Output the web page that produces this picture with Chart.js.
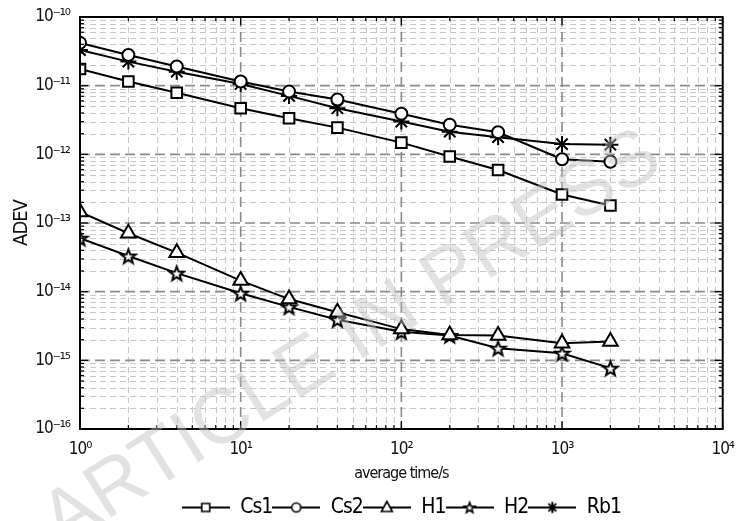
<!DOCTYPE html>
<html>
<head>
<meta charset="utf-8">
<script src="https://cdn.jsdelivr.net/npm/chart.js@4.4.0/dist/chart.umd.min.js"></script>
<style>
  html, body { margin: 0; padding: 0; background: #fff; }
  #wrap { width: 736px; height: 521px; }
</style>
</head>
<body>
<div id="wrap"><canvas id="adev"></canvas></div>
<script>
// averaging times (s)
const tau = [1, 2, 4, 10, 20, 40, 100, 200, 400, 1000, 2000];

// Allan deviation per clock
const cs1 = [1.75e-11, 1.15e-11, 7.9e-12, 4.7e-12, 3.35e-12, 2.45e-12, 1.48e-12, 9.3e-13, 5.9e-13, 2.6e-13, 1.8e-13];
const cs2 = [4.2e-11, 2.8e-11, 1.9e-11, 1.15e-11, 8.2e-12, 6.3e-12, 3.9e-12, 2.7e-12, 2.1e-12, 8.5e-13, 7.8e-13];
const h1  = [1.45e-13, 7.1e-14, 3.7e-14, 1.45e-14, 7.8e-15, 5.0e-15, 2.85e-15, 2.34e-15, 2.3e-15, 1.78e-15, 1.88e-15];
const h2  = [6.0e-14, 3.3e-14, 1.86e-14, 9.5e-15, 6.0e-15, 3.9e-15, 2.6e-15, 2.3e-15, 1.5e-15, 1.27e-15, 7.7e-16];
const rb1 = [3.3e-11, 2.24e-11, 1.6e-11, 1.06e-11, 7.1e-12, 4.7e-12, 3.0e-12, 2.14e-12, 1.78e-12, 1.41e-12, 1.38e-12];

const names = ['Cs1', 'Cs2', 'H1', 'H2', 'Rb1'];
const series = [cs1, cs2, h1, h2, rb1];

// axis decades
const xExp = [0, 1, 2, 3, 4];
const yExp = [-16, -15, -14, -13, -12, -11, -10];

const FONT = "'DejaVu Sans Condensed', 'DejaVu Sans', sans-serif";
const SUP = {'0':'⁰','1':'¹','2':'²','3':'³','4':'⁴','5':'⁵','6':'⁶','7':'⁷','8':'⁸','9':'⁹','-':'⁻'};
const pow10 = e => '10' + String(e).split('').map(c => SUP[c]).join('');

function pentagram(ctx, cx, cy, R) {
  const r = R * 0.42;
  ctx.beginPath();
  for (let i = 0; i < 10; i++) {
    const a = -Math.PI / 2 + i * Math.PI / 5;
    const rr = i % 2 ? r : R;
    const px = cx + rr * Math.cos(a), py = cy + rr * Math.sin(a);
    i ? ctx.lineTo(px, py) : ctx.moveTo(px, py);
  }
  ctx.closePath();
}

function starCanvas(R, lw) {
  const c = document.createElement('canvas');
  const s = Math.ceil(2 * R + lw + 2);
  c.width = s; c.height = s;
  const g = c.getContext('2d');
  pentagram(g, s / 2, s / 2 + 0.8, R);
  g.fillStyle = '#fff'; g.fill();
  g.lineWidth = lw; g.strokeStyle = '#000'; g.lineJoin = 'miter'; g.stroke();
  return c;
}

// legend icon: line with marker in the middle
function legendIcon(kind) {
  const w = 48, h = 22;
  const c = document.createElement('canvas');
  c.width = w; c.height = h;
  const g = c.getContext('2d');
  const cx = w / 2, cy = h / 2;
  g.strokeStyle = '#000'; g.lineWidth = 2;
  g.beginPath(); g.moveTo(0, cy); g.lineTo(w, cy); g.stroke();
  g.fillStyle = '#fff'; g.lineWidth = 1.6;
  g.beginPath();
  if (kind === 'rect') {
    g.rect(cx - 4, cy - 4, 8, 8);
    g.fill(); g.stroke();
  } else if (kind === 'circle') {
    g.arc(cx, cy, 4.5, 0, Math.PI * 2);
    g.fill(); g.stroke();
  } else if (kind === 'triangle') {
    g.moveTo(cx, cy - 6); g.lineTo(cx + 5.5, cy + 4); g.lineTo(cx - 5.5, cy + 4); g.closePath();
    g.fill(); g.stroke();
  } else if (kind === 'penta') {
    pentagram(g, cx, cy + 0.5, 5.5);
    g.fill(); g.stroke();
  } else {
    for (let i = 0; i < 4; i++) {
      const a = i * Math.PI / 4;
      g.moveTo(cx - 5.5 * Math.cos(a), cy - 5.5 * Math.sin(a));
      g.lineTo(cx + 5.5 * Math.cos(a), cy + 5.5 * Math.sin(a));
    }
    g.lineWidth = 2; g.stroke();
  }
  return c;
}

const pentaPoint = starCanvas(7.5, 2);
const styles = ['rect', 'circle', 'triangle', pentaPoint, 'star'];
const radii = [7.5, 6, 8.5, 7, 8];
const icons = ['rect', 'circle', 'triangle', 'penta', 'star'].map(legendIcon);

const frame = {
  id: 'frame',
  beforeLayout(chart) { chart.ctx.letterSpacing = '-1px'; },
  beforeDraw(chart) { chart.ctx.letterSpacing = '-1px'; },
  beforeDatasetsDraw(chart) {
    const {ctx, chartArea: a, scales: {x, y}} = chart;
    ctx.save();
    const vline = px => { ctx.beginPath(); ctx.moveTo(px, a.top); ctx.lineTo(px, a.bottom); ctx.stroke(); };
    const hline = py => { ctx.beginPath(); ctx.moveTo(a.left, py); ctx.lineTo(a.right, py); ctx.stroke(); };
    // minor grid
    ctx.strokeStyle = '#c8c8c8'; ctx.lineWidth = 1; ctx.setLineDash([6, 4]);
    xExp.slice(0, -1).forEach(e => { for (let m = 2; m < 10; m++) vline(Math.round(x.getPixelForValue(m * 10 ** e)) + 0.5); });
    yExp.slice(0, -1).forEach(e => { for (let m = 2; m < 10; m++) hline(Math.round(y.getPixelForValue(m * 10 ** e)) + 0.5); });
    // major grid
    ctx.strokeStyle = '#8c8c8c'; ctx.lineWidth = 1.6; ctx.setLineDash([10, 5]);
    xExp.slice(1, -1).forEach(e => vline(x.getPixelForValue(10 ** e)));
    yExp.slice(1, -1).forEach(e => hline(y.getPixelForValue(10 ** e)));
    ctx.restore();
  },
  afterDatasetsDraw(chart) {
    const {ctx, chartArea: a, scales: {x, y}} = chart;
    ctx.save();
    ctx.strokeStyle = '#000'; ctx.lineWidth = 1.2;
    const tick = (x0, y0, x1, y1) => { ctx.beginPath(); ctx.moveTo(x0, y0); ctx.lineTo(x1, y1); ctx.stroke(); };
    xExp.forEach((e, i) => {
      for (let m = 1; m < 10; m++) {
        if (i === xExp.length - 1 && m > 1) break;
        const px = x.getPixelForValue(m * 10 ** e);
        const L = m === 1 ? 8 : 4;
        tick(px, a.bottom, px, a.bottom - L);
        tick(px, a.top, px, a.top + L);
      }
    });
    yExp.forEach((e, i) => {
      for (let m = 1; m < 10; m++) {
        if (i === yExp.length - 1 && m > 1) break;
        const py = y.getPixelForValue(m * 10 ** e);
        const L = m === 1 ? 8 : 4;
        tick(a.left, py, a.left + L, py);
        tick(a.right, py, a.right - L, py);
      }
    });
    ctx.lineWidth = 2;
    ctx.strokeRect(a.left, a.top, a.right - a.left, a.bottom - a.top);
    ctx.restore();
  },
  afterDraw(chart) {
    const {ctx} = chart;
    ctx.save();
    ctx.letterSpacing = '0px';
    ctx.translate(352, 340);
    ctx.rotate(-32.2 * Math.PI / 180);
    ctx.font = "78px 'Liberation Sans', Arial, sans-serif";
    ctx.textAlign = 'center';
    ctx.textBaseline = 'middle';
    ctx.fillStyle = 'rgba(190,190,190,0.45)';
    ctx.fillText('ARTICLE IN PRESS', 0, 0);
    ctx.restore();
  }
};

new Chart(document.getElementById('adev'), {
  type: 'line',
  data: {
    datasets: names.map((n, i) => ({
      label: n,
      data: tau.map((t, j) => ({x: t, y: series[i][j]})),
      borderColor: '#000',
      borderWidth: 2,
      backgroundColor: '#fff',
      pointStyle: styles[i],
      pointRadius: radii[i],
      pointBorderWidth: 2,
      pointBackgroundColor: '#fff',
      pointBorderColor: '#000',
      tension: 0
    }))
  },
  options: {
    responsive: true,
    maintainAspectRatio: false,
    animation: false,
    layout: { padding: { top: 17, right: 0, left: 0, bottom: 0 } },
    plugins: {
      tooltip: { enabled: false },
      legend: {
        position: 'bottom',
        fullSize: false,
        maxHeight: 24,
        labels: {
          usePointStyle: true,
          pointStyleWidth: 48,
          padding: 0,
          color: '#000',
          font: { family: FONT, size: 21 },
          generateLabels: chart => chart.data.datasets.map((ds, i) => ({
            text: ds.label, pointStyle: icons[i], fillStyle: '#fff', strokeStyle: '#000',
            lineWidth: 0, hidden: false, datasetIndex: i, fontColor: '#000'
          }))
        }
      }
    },
    scales: {
      x: {
        type: 'logarithmic',
        min: 1, max: 10000,
        grid: { display: false },
        border: { display: false },
        afterBuildTicks: s => { s.ticks = xExp.map(e => ({value: 10 ** e})); },
        afterFit: s => { s.height = 68; },
        ticks: {
          autoSkip: false, maxRotation: 0, padding: 2, color: '#111',
          font: { family: FONT, size: 17 },
          callback: v => pow10(Math.round(Math.log10(v)))
        },
        title: {
          display: true, text: 'average time/s', color: '#111',
          font: { family: FONT, size: 16 }, padding: { top: 0, bottom: 14 }
        }
      },
      y: {
        type: 'logarithmic',
        min: 1e-16, max: 1e-10,
        grid: { display: false },
        border: { display: false },
        afterBuildTicks: s => { s.ticks = yExp.map(e => ({value: 10 ** e})); },
        afterFit: s => { s.width = 80; },
        ticks: {
          autoSkip: false, padding: 2, color: '#111',
          font: { family: FONT, size: 17 },
          callback: v => pow10(Math.round(Math.log10(v)))
        },
        title: {
          display: true, text: 'ADEV', color: '#111',
          font: { family: FONT, size: 20 }, padding: { top: 10, bottom: 0 }
        }
      }
    }
  },
  plugins: [frame]
});
</script>
</body>
</html>
